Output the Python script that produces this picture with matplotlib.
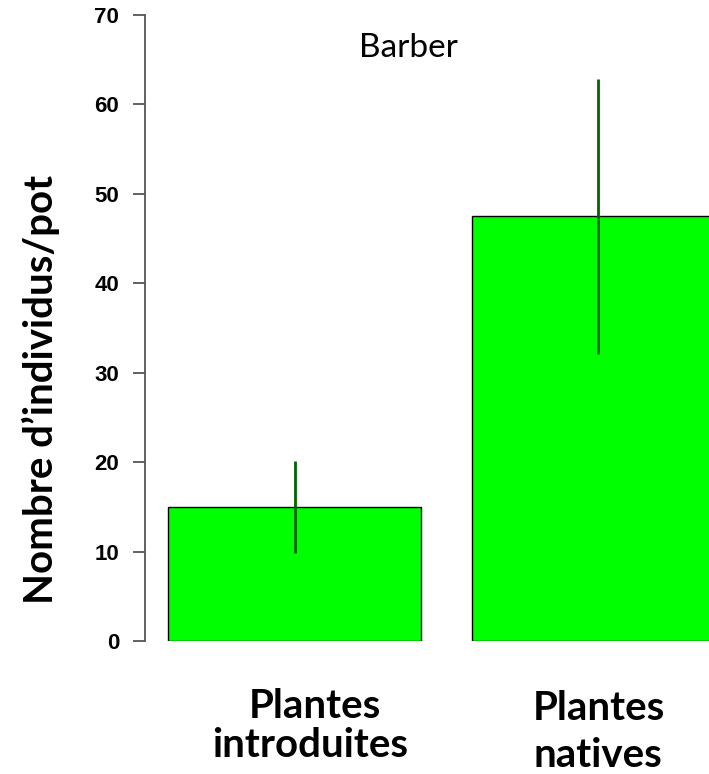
import matplotlib
matplotlib.use('Agg')
import matplotlib.pyplot as plt

ligne1 = ['Plantes', 'Plantes']
ligne2 = ['introduites', 'natives']
moyennes = [15.0, 47.5]
erreurs = [5.1, 15.4]
positions = [0.7, 1.9]
yticks = [0, 10, 20, 30, 40, 50, 60, 70]

W, H = 709, 774
fig = plt.figure(figsize=(W / 100, H / 100), dpi=100)
ax = fig.add_axes([145 / W, 1 - 641.3 / H, 1 - 145 / W, 626.3 / H])

ax.bar(positions, moyennes, width=1.0, color='#00ff00', edgecolor='black', linewidth=1.0, zorder=2)
ax.errorbar(positions, moyennes, yerr=erreurs, fmt='none', ecolor='#006400', elinewidth=2, capsize=0, zorder=3)

ax.set_xlim(0.109, 2.338)
ax.set_ylim(0, 70)
for s in ['top', 'right', 'bottom']:
    ax.spines[s].set_visible(False)
ax.spines['left'].set_color('#555555')
ax.spines['left'].set_linewidth(1.3)
ax.spines['left'].set_bounds(0, 70)
ax.set_xticks([])
ax.set_yticks(yticks)
ax.tick_params(axis='y', length=8.6, width=1.3, color='#555555', pad=10)
for lab in ax.get_yticklabels():
    lab.set_fontfamily('Liberation Sans')
    lab.set_fontweight('bold')
    lab.set_fontsize(16)

# titre de l'axe y
fig.text(53 / W, 1 - 389 / H, 'Nombre d’individus/pot', rotation=90, rotation_mode='anchor',
         ha='center', va='baseline', fontfamily='Lato', fontweight='bold', fontsize=29)

fig.text(408 / W, 1 - 57 / H, 'Barber', ha='center', va='baseline',
         fontfamily='Lato', fontsize=24)

# libellés des groupes (zones de texte placées à la main dans l'original)
x1 = [314.5, 598.5]
y1 = [718, 720]
x2 = [310.5, 597.5]
y2 = [757, 767]
for i in range(2):
    fig.text(x1[i] / W, 1 - y1[i] / H, ligne1[i], ha='center', va='baseline',
             fontfamily='Lato', fontweight='bold', fontsize=29)
    fig.text(x2[i] / W, 1 - y2[i] / H, ligne2[i], ha='center', va='baseline',
             fontfamily='Lato', fontweight='bold', fontsize=29)

fig.savefig('out.png', dpi=100)
